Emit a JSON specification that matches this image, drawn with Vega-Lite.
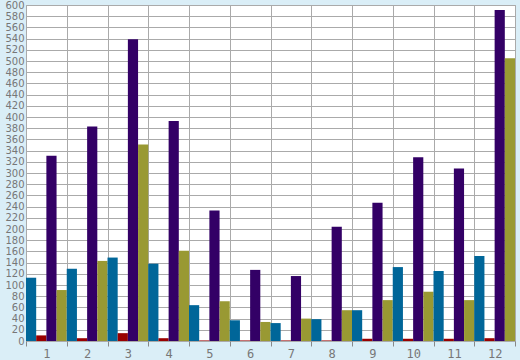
{
  "$schema": "https://vega.github.io/schema/vega-lite/v6.json",
  "autosize": "none",
  "width": 489,
  "height": 336,
  "padding": {"left": 26, "top": 5, "right": 5, "bottom": 19},
  "background": "#daeef7",
  "view": {"fill": "white", "stroke": "#aaaaaa", "strokeWidth": 1},
  "data": {"values": [
    {"g": "1", "s": "a", "v": 113}, {"g": "1", "s": "b", "v": 10}, {"g": "1", "s": "c", "v": 331}, {"g": "1", "s": "d", "v": 91},
    {"g": "2", "s": "a", "v": 129}, {"g": "2", "s": "b", "v": 5}, {"g": "2", "s": "c", "v": 383}, {"g": "2", "s": "d", "v": 143},
    {"g": "3", "s": "a", "v": 149}, {"g": "3", "s": "b", "v": 14}, {"g": "3", "s": "c", "v": 539}, {"g": "3", "s": "d", "v": 351},
    {"g": "4", "s": "a", "v": 138}, {"g": "4", "s": "b", "v": 5}, {"g": "4", "s": "c", "v": 393}, {"g": "4", "s": "d", "v": 161},
    {"g": "5", "s": "a", "v": 64}, {"g": "5", "s": "b", "v": 1}, {"g": "5", "s": "c", "v": 233}, {"g": "5", "s": "d", "v": 71},
    {"g": "6", "s": "a", "v": 37}, {"g": "6", "s": "b", "v": 1}, {"g": "6", "s": "c", "v": 127}, {"g": "6", "s": "d", "v": 34},
    {"g": "7", "s": "a", "v": 32}, {"g": "7", "s": "b", "v": 1}, {"g": "7", "s": "c", "v": 116}, {"g": "7", "s": "d", "v": 40},
    {"g": "8", "s": "a", "v": 39}, {"g": "8", "s": "b", "v": 1}, {"g": "8", "s": "c", "v": 204}, {"g": "8", "s": "d", "v": 55},
    {"g": "9", "s": "a", "v": 55}, {"g": "9", "s": "b", "v": 4}, {"g": "9", "s": "c", "v": 247}, {"g": "9", "s": "d", "v": 73},
    {"g": "10", "s": "a", "v": 132}, {"g": "10", "s": "b", "v": 4}, {"g": "10", "s": "c", "v": 328}, {"g": "10", "s": "d", "v": 88},
    {"g": "11", "s": "a", "v": 125}, {"g": "11", "s": "b", "v": 4}, {"g": "11", "s": "c", "v": 308}, {"g": "11", "s": "d", "v": 73},
    {"g": "12", "s": "a", "v": 152}, {"g": "12", "s": "b", "v": 5}, {"g": "12", "s": "c", "v": 591}, {"g": "12", "s": "d", "v": 505}
  ]},
  "mark": {"type": "bar"},
  "encoding": {
    "x": {
      "field": "g", "type": "ordinal", "sort": null,
      "scale": {"paddingInner": 0, "paddingOuter": 0},
      "axis": {
        "title": null, "labelAngle": 0, "grid": true, "gridColor": "#aaaaaa",
        "bandPosition": 0, "tickBand": "extent",
        "tickSize": 5, "tickColor": "#888888", "domain": false,
        "labelFont": "DejaVu Sans Mono", "labelFontSize": 12, "labelColor": "#777777",
        "labelPadding": 2, "labelOverlap": false
      }
    },
    "xOffset": {"field": "s", "type": "nominal", "scale": {"paddingInner": 0, "paddingOuter": 0}},
    "y": {
      "field": "v", "type": "quantitative",
      "scale": {"domain": [0, 600], "nice": false},
      "axis": {
        "title": null, "values": [0,20,40,60,80,100,120,140,160,180,200,220,240,260,280,300,320,340,360,380,400,420,440,460,480,500,520,540,560,580,600],
        "grid": true, "gridColor": "#aaaaaa", "ticks": false, "domain": false,
        "labelFont": "DejaVu Sans", "labelFontSize": 10, "labelColor": "#777777",
        "labelPadding": 2, "labelOverlap": false, "labelFlush": false
      }
    },
    "color": {
      "field": "s", "type": "nominal", "legend": null,
      "scale": {"domain": ["a", "b", "c", "d"], "range": ["#006699", "#990000", "#330066", "#999933"]}
    }
  }
}
